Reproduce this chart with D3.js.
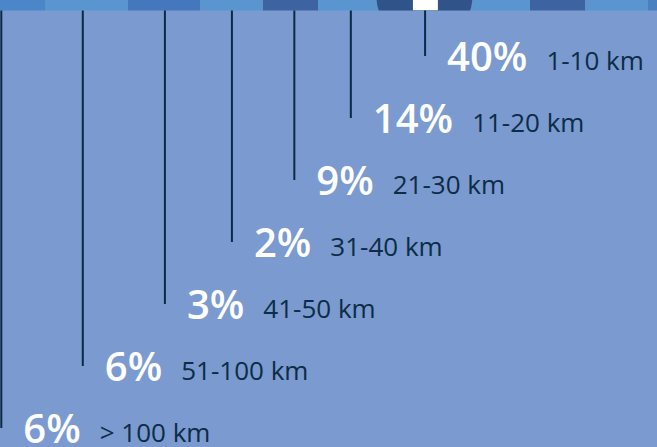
<!DOCTYPE html>
<html>

<head>
    <script src="https://d3js.org/d3.v7.min.js"></script>
    <style>
        body {
            margin: 0;
            background: #7b9acf;
        }

        .pct {
            font-family: "Open Sans", sans-serif;
            font-weight: 600;
            font-size: 40px;
            fill: #ffffff;
        }

        .range {
            font-family: "Open Sans", sans-serif;
            font-size: 26px;
            fill: #0c2c47;
        }

        .stem {
            stroke: #0b2a45;
            stroke-width: 2px;
        }
    </style>
</head>

<body>
    <svg id="chart" width="657" height="447"></svg>

    <script>
        // share of trips by distance band
        var ranges = ["1-10 km", "11-20 km", "21-30 km", "31-40 km", "41-50 km", "51-100 km", "> 100 km"];
        var percents = [40, 14, 9, 2, 3, 6, 6];

        // where each stem meets the strip, in percent of strip width
        var anchors = [64.7, 53.4, 44.8, 35.3, 25.1, 12.6, 0.2];

        // strip along the top, segment widths in percent of strip width
        var stripWidths = [6.85, 12.63, 10.96, 9.59, 8.37, 8.83, 14.61, 8.83, 8.37, 9.59, 1.37];
        var stripColors = ["#4a86c8", "#5b95d0", "#4477bb", "#5b95d0", "#3d64a0", "#5b95d0",
            "#5b95d0", "#5b95d0", "#3d64a0", "#5b95d0", "#4a80c0"];

        var width = 657,
            height = 447,
            stripH = 10.5;

        var svg = d3.select("#chart");

        var x = d3.scaleLinear().domain([0, 100]).range([0, width]);
        var y = d3.scalePoint().domain(ranges).range([71, 443]);

        svg.append("rect")
            .attr("width", width)
            .attr("height", height)
            .attr("fill", "#7b9acf");

        // the strip
        var starts = d3.cumsum([0].concat(stripWidths));
        svg.selectAll(".seg")
            .data(stripWidths)
            .enter().append("rect")
            .attr("class", "seg")
            .attr("x", function (d, i) { return x(starts[i]); })
            .attr("y", 0)
            .attr("width", function (d) { return x(d) + 0.5; })
            .attr("height", stripH)
            .attr("fill", function (d, i) { return stripColors[i]; });

        // dark disc cut off at the top, with the white marker inside
        svg.append("clipPath").attr("id", "stripClip")
            .append("rect").attr("width", width).attr("height", stripH);

        var disc = svg.append("g").attr("clip-path", "url(#stripClip)");
        disc.append("circle")
            .attr("cx", x(64.6))
            .attr("cy", -4)
            .attr("r", 48)
            .attr("fill", "#30538a");
        disc.append("rect")
            .attr("x", x(62.85))
            .attr("y", 0)
            .attr("width", x(3.8))
            .attr("height", stripH)
            .attr("fill", "#ffffff");

        // stems and labels
        var pad = 22;

        var rows = svg.selectAll(".row")
            .data(ranges)
            .enter().append("g")
            .attr("class", "row");

        rows.append("line")
            .attr("class", "stem")
            .attr("x1", function (d, i) { return x(anchors[i]); })
            .attr("x2", function (d, i) { return x(anchors[i]); })
            .attr("y1", stripH)
            .attr("y2", function (d) { return y(d) - 15; });

        rows.append("text")
            .attr("class", "pct")
            .attr("x", function (d, i) { return x(anchors[i]) + pad; })
            .attr("y", function (d) { return y(d); })
            .text(function (d, i) { return percents[i] + "%"; });

        rows.each(function (d, i) {
            var g = d3.select(this);
            var w = g.select(".pct").node().getComputedTextLength();
            g.append("text")
                .attr("class", "range")
                .attr("x", x(anchors[i]) + pad + w + 19)
                .attr("y", y(d) - 1)
                .text(d);
        });
    </script>
</body>

</html>
